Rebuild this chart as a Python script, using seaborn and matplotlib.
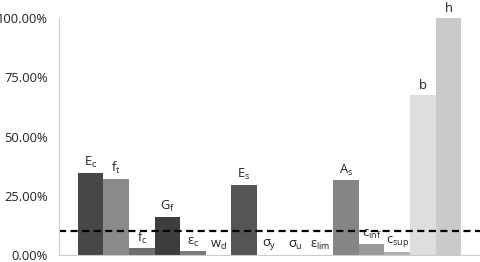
import numpy as np
import pandas as pd
import matplotlib
matplotlib.use('Agg')
import matplotlib.pyplot as plt
import seaborn as sns
from matplotlib.ticker import FuncFormatter

# parametros y su peso relativo
params = ['Ec', 'ft', 'fc', 'Gf', 'eps_c', 'wd', 'Es', 'sig_y', 'sig_u', 'eps_lim',
          'As', 'c_inf', 'c_sup', 'b', 'h']
labels = [r'$E_c$', r'$f_t$', r'$f_c$', r'$G_f$', r'$\epsilon_c$', r'$w_d$', r'$E_s$',
          r'$\sigma_y$', r'$\sigma_u$', r'$\epsilon_{lim}$', r'$A_s$', r'$c_{inf}$',
          r'$c_{sup}$', 'b', 'h']
values = [0.347, 0.320, 0.028, 0.159, 0.015, 0.0, 0.296, 0.0, 0.0, 0.0,
          0.315, 0.046, 0.012, 0.677, 1.0]
colores = ['#474747', '#8a8a8a', '#6e6e6e', '#3d3d3d', '#7a7a7a', '#777777', '#555555',
           '#777777', '#777777', '#777777', '#858585', '#9a9a9a', '#b0b0b0', '#dedede',
           '#cacaca']
umbral = 0.10

plt.rcParams['font.family'] = ['Open Sans', 'DejaVu Sans']
plt.rcParams['mathtext.default'] = 'regular'

df = pd.DataFrame({'param': params, 'valor': values})

fig = plt.figure(figsize=(4.8, 2.62), dpi=100)
ax = fig.add_axes([0.123, 0.027, 0.877, 0.904])

sns.barplot(data=df, x='param', y='valor', hue='param', palette=colores,
            legend=False, width=1.0, saturation=1, ax=ax)

for p, lab in zip(ax.patches, labels):
    ax.annotate(lab, (p.get_x() + p.get_width() / 2, p.get_height()),
                xytext=(0, 2), textcoords='offset points',
                ha='center', va='bottom', fontsize=9.3, color='#222222')

ax.axhline(umbral, color='black', lw=1.6, ls=(0, (3.2, 2)))

ax.set_ylim(0, 1.0)
ax.set_xlim(-1.24, 15.24)
ax.set_yticks([0, 0.25, 0.5, 0.75, 1.0])
ax.yaxis.set_major_formatter(FuncFormatter(lambda v, _: f'{v*100:.2f}%'))
ax.tick_params(axis='y', length=0, pad=8, labelsize=9.3, labelcolor='#222222')
ax.set_xticks([])
ax.set_xlabel('')
ax.set_ylabel('')
for s in ['top', 'right']:
    ax.spines[s].set_visible(False)
ax.spines['left'].set_color('#cccccc')
ax.spines['bottom'].set_color('#cccccc')

fig.savefig('out.png', dpi=100)
